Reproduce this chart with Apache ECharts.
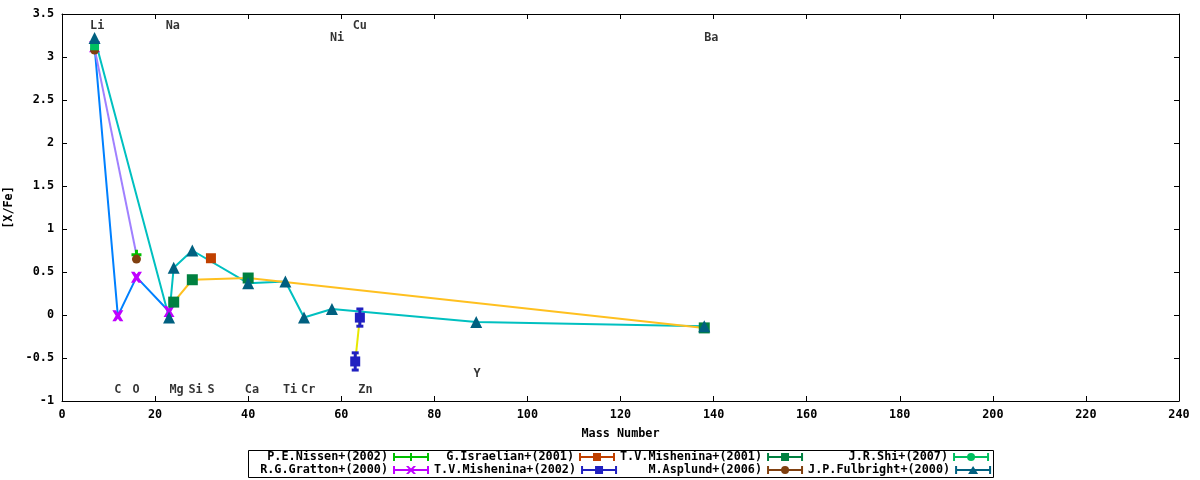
<!DOCTYPE html>
<html>
<head>
<meta charset="utf-8">
<script src="https://cdn.jsdelivr.net/npm/echarts@6/dist/echarts.min.js"></script>
<style>
html,body{margin:0;padding:0;background:#fff;}
#chart{width:1200px;height:480px;}
</style>
</head>
<body>
<div id="chart"></div>
<script>
// mass number / [X/Fe] per source
var nissenX = [16];
var nissenY = [0.70];
var israelianX = [32];
var israelianY = [0.66];
var mish01X = [24, 28, 40, 138];
var mish01Y = [0.15, 0.41, 0.43, -0.15];
var shiX = [7];
var shiY = [3.13];
var grattonX = [7, 12, 16, 23];
var grattonY = [3.12, -0.01, 0.44, 0.04];
var mish02X = [64, 63];
var mish02Y = [-0.03, -0.54];
var mish02Err = [0.10, 0.10];
var asplundX = [7, 16];
var asplundY = [3.08, 0.65];
var fulbrightX = [7, 23, 24, 28, 40, 48, 52, 58, 89, 138];
var fulbrightY = [3.22, -0.03, 0.55, 0.75, 0.37, 0.39, -0.03, 0.07, -0.08, -0.13];
// Li -> O connecting line
var liOX = [7, 16];
var liOY = [3.10, 0.70];

// element name labels
var elemNames = ['Li', 'Na', 'Ni', 'Cu', 'Ba', 'C', 'O', 'Mg', 'Si', 'S', 'Ca', 'Ti', 'Cr', 'Zn', 'Y'];
var elemX = [7.55, 23.8, 59.1, 64.0, 139.5, 12.0, 15.9, 24.6, 28.7, 32.0, 40.8, 49.0, 52.9, 65.2, 89.2];
var elemY = [3.36, 3.36, 3.22, 3.36, 3.22, -0.87, -0.87, -0.87, -0.87, -0.87, -0.87, -0.87, -0.87, -0.87, -0.69];

var FONT = 'DejaVu Sans Mono';

function pairs(xs, ys){
	var out = [];
	for(var i = 0; i < xs.length; i++){
		out.push([xs[i], ys[i]]);
	}
	return out;
}

// legend glyphs: errorbar with caps and marker in the middle (36x8 box)
var BAR = 'M0,0 h2 v8 h-2 Z M34,0 h2 v8 h-2 Z M2,3 h32 v2 h-32 Z ';
var icons = {
	plus: 'path://' + BAR + 'M17,0 h2 v8 h-2 Z',
	square: 'path://' + BAR + 'M14,0 h8 v8 h-8 Z',
	cross: 'path://' + BAR + 'M13,0 L15.5,0 L18,2.5 L20.5,0 L23,0 L19.5,4 L23,8 L20.5,8 L18,5.5 L15.5,8 L13,8 L16.5,4 Z',
	circle: 'path://' + BAR + 'M14,4 A4,4 0 1,1 22,4 A4,4 0 1,1 14,4 Z',
	triangle: 'path://' + BAR + 'M18,0 L23,8 L13,8 Z'
};

var plusSym = 'path://M3.5,0 h3 v3.5 h3.5 v3 h-3.5 v3.5 h-3 v-3.5 h-3.5 v-3 h3.5 Z';
var crossSym = 'path://M0,0 L3.2,0 L5,2.3 L6.8,0 L10,0 L7,5 L10,10 L6.8,10 L5,7.7 L3.2,10 L0,10 L3,5 Z';

function pointSeries(name, xs, ys, color, symbol, size, z){
	return {
		name: name,
		type: 'scatter',
		data: pairs(xs, ys),
		symbol: symbol,
		symbolSize: size,
		itemStyle: {color: color, opacity: 1},
		z: z,
		silent: true
	};
}

function lineSeries(xs, ys, color){
	return {
		type: 'line',
		data: pairs(xs, ys),
		symbol: 'none',
		lineStyle: {color: color, width: 2},
		z: 1,
		silent: true
	};
}

var errData = [];
for(var i = 0; i < mish02X.length; i++){
	errData.push([mish02X[i], mish02Y[i], mish02Err[i]]);
}

var legendRow1 = [
	{name: 'P.E.Nissen+(2002)', icon: icons.plus},
	{name: 'G.Israelian+(2001)', icon: icons.square},
	{name: 'T.V.Mishenina+(2001)', icon: icons.square},
	{name: 'J.R.Shi+(2007)', icon: icons.circle}
];
var legendRow2 = [
	{name: 'R.G.Gratton+(2000)', icon: icons.cross},
	{name: 'T.V.Mishenina+(2002)', icon: icons.square},
	{name: 'M.Asplund+(2006)', icon: icons.circle},
	{name: 'J.P.Fulbright+(2000)', icon: icons.triangle}
];

function legendRow(items, top){
	return {
		data: items,
		left: 248,
		top: top,
		width: 800,
		orient: 'horizontal',
		align: 'right',
		padding: 0,
		itemGap: 5,
		itemWidth: 36,
		itemHeight: 8,
		selectedMode: false,
		textStyle: {
			color: '#000', fontFamily: FONT, fontWeight: 'bold', fontSize: 11.8,
			width: 140, lineHeight: 12, align: 'right', overflow: 'none'
		}
	};
}

var tickStyle = {show: true, inside: true, length: 5, lineStyle: {color: '#000', width: 1}};
var lineAx = {show: true, onZero: false, lineStyle: {color: '#000', width: 1}};
var labelStyle = {color: '#000', fontFamily: FONT, fontWeight: 'bold', fontSize: 11.8};

var option = {
	animation: false,
	backgroundColor: '#fff',
	grid: {left: 62, right: 21, top: 14, bottom: 79, containLabel: false, outerBoundsMode: 'none'},
	legend: [legendRow(legendRow1, 451), legendRow(legendRow2, 464)],
	graphic: [{
		type: 'rect',
		left: 246, top: 448,
		shape: {width: 745, height: 27},
		style: {fill: 'none', stroke: '#000', lineWidth: 1},
		silent: true
	}],
	xAxis: [{
		type: 'value', min: 0, max: 240, interval: 20,
		name: 'Mass Number', nameLocation: 'middle', nameGap: 27,
		nameTextStyle: labelStyle,
		axisLine: lineAx, axisTick: tickStyle,
		axisLabel: Object.assign({margin: 8}, labelStyle),
		splitLine: {show: false}
	}, {
		type: 'value', min: 0, max: 240, interval: 20, position: 'top',
		axisLine: lineAx, axisTick: tickStyle,
		axisLabel: {show: false}, splitLine: {show: false}
	}],
	yAxis: [{
		type: 'value', min: -1, max: 3.5, interval: 0.5,
		name: '[X/Fe]', nameLocation: 'middle', nameGap: 44, nameRotate: 90,
		nameTextStyle: labelStyle,
		axisLine: lineAx, axisTick: tickStyle,
		axisLabel: Object.assign({margin: 8}, labelStyle),
		splitLine: {show: false}
	}, {
		type: 'value', min: -1, max: 3.5, interval: 0.5, position: 'right',
		axisLine: lineAx, axisTick: tickStyle,
		axisLabel: {show: false}, splitLine: {show: false}
	}],
	series: [
		lineSeries(grattonX, grattonY, '#0080ff'),
		lineSeries(liOX, liOY, '#a080ff'),
		lineSeries(fulbrightX, fulbrightY, '#00c0c0'),
		lineSeries(mish01X, mish01Y, '#ffc020'),
		lineSeries(mish02X, mish02Y, '#e8e800'),
		pointSeries('P.E.Nissen+(2002)', nissenX, nissenY, '#00c000', plusSym, 10, 3),
		pointSeries('R.G.Gratton+(2000)', grattonX, grattonY, '#c000ff', crossSym, 11, 4),
		pointSeries('G.Israelian+(2001)', israelianX, israelianY, '#c04000', 'rect', 10, 5),
		{
			type: 'custom',
			data: errData,
			z: 6,
			silent: true,
			renderItem: function(params, api){
				var x = api.value(0), y = api.value(1), e = api.value(2);
				var top = api.coord([x, y + e]);
				var bot = api.coord([x, y - e]);
				var st = {stroke: '#2020c0', lineWidth: 3};
				return {
					type: 'group',
					children: [
						{type: 'line', shape: {x1: top[0], y1: top[1], x2: bot[0], y2: bot[1]}, style: st},
						{type: 'line', shape: {x1: top[0] - 3.5, y1: top[1], x2: top[0] + 3.5, y2: top[1]}, style: st},
						{type: 'line', shape: {x1: bot[0] - 3.5, y1: bot[1], x2: bot[0] + 3.5, y2: bot[1]}, style: st}
					]
				};
			}
		},
		pointSeries('T.V.Mishenina+(2002)', mish02X, mish02Y, '#2020c0', 'rect', 10, 6),
		pointSeries('T.V.Mishenina+(2001)', mish01X, mish01Y, '#008040', 'rect', 11, 7),
		pointSeries('M.Asplund+(2006)', asplundX, asplundY, '#804010', 'circle', 9, 8),
		pointSeries('J.R.Shi+(2007)', shiX, shiY, '#00c060', 'rect', 9, 9),
		pointSeries('J.P.Fulbright+(2000)', fulbrightX, fulbrightY, '#006080', 'triangle', 12, 10),
		{
			type: 'scatter',
			data: pairs(elemX, elemY),
			symbolSize: 0.01,
			z: 12,
			silent: true,
			itemStyle: {color: 'rgba(0,0,0,0)'},
			label: {
				show: true,
				position: 'inside',
				color: '#000', fontFamily: FONT, fontWeight: 'bold', fontSize: 11.8,
				formatter: function(p){ return elemNames[p.dataIndex]; }
			}
		}
	]
};

var myChart = echarts.init(document.getElementById('chart'));
myChart.setOption(option);
</script>
</body>
</html>
